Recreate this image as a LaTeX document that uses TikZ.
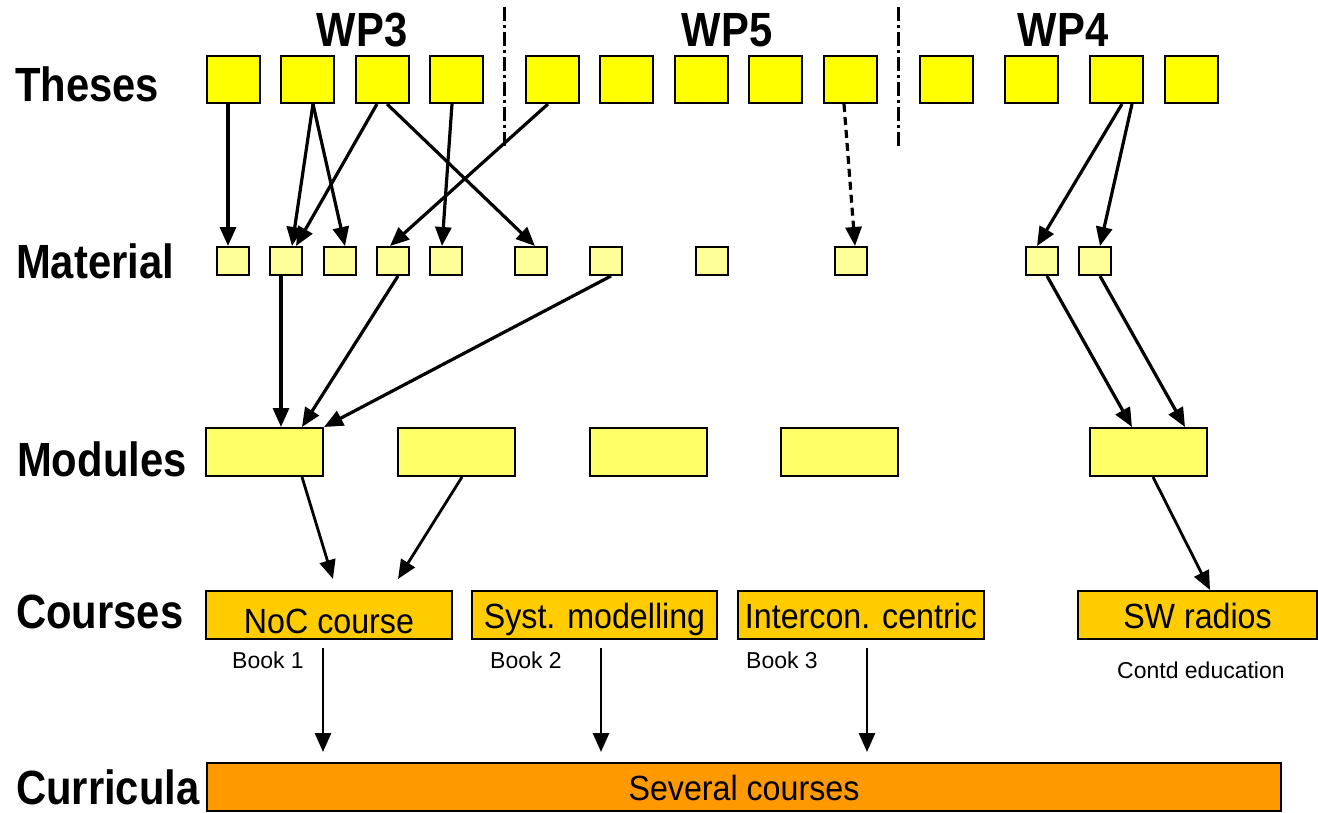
\documentclass[tikz,border=0pt]{standalone}
\usepackage{fontspec}
\setmainfont{Liberation Sans}
\newfontfamily\rowfont[FakeStretch=0.87]{Liberation Sans}
\newfontfamily\boxfont[FakeStretch=0.92]{Liberation Sans}
\usetikzlibrary{arrows.meta}

\definecolor{thesisfill}{HTML}{FFFF00}
\definecolor{matfill}{HTML}{FFFF99}
\definecolor{modfill}{HTML}{FFFF66}
\definecolor{coursefill}{HTML}{FFCC00}
\definecolor{currfill}{HTML}{FF9900}

\tikzset{
    rowlabel/.style={font=\rowfont\bfseries\fontsize{48}{48}\selectfont, anchor=base west, inner sep=0pt},
    wplabel/.style={font=\rowfont\bfseries\fontsize{48}{48}\selectfont, anchor=base, inner sep=0pt},
    note/.style={font=\fontsize{23}{23}\selectfont, anchor=base west, inner sep=0pt},
    thesis/.style={draw, line width=2pt, fill=thesisfill, minimum width=53pt, minimum height=47pt, inner sep=0pt},
    material/.style={draw, line width=2pt, fill=matfill, minimum width=32pt, minimum height=28pt, inner sep=0pt},
    module/.style={draw, line width=2pt, fill=modfill, minimum width=117pt, minimum height=48pt, inner sep=0pt},
    course/.style={draw, line width=2pt, fill=coursefill, minimum height=48pt, inner sep=0pt,
        font=\boxfont\fontsize{35}{35}\selectfont, text height=27pt, text depth=0pt},
    link/.style={line width=3.2pt, -{Triangle[length=19pt,width=16pt]}},
    sep/.style={line width=3pt, dash pattern=on 14pt off 4pt on 3pt off 4pt}
}

\begin{document}
\begin{tikzpicture}[x=1pt, y=-1pt]
    \useasboundingbox (0,0) rectangle (1318,812);
    % row labels
    \node[rowlabel] (theses) at (15,101) {Theses};
    \node[rowlabel] (material) at (16,278) {Material};
    \node[rowlabel] (modules) at (17,476) {Modules};
    \node[rowlabel] (courses) at (16,628) {Courses};
    \node[rowlabel] (curricula) at (16,804) {Curricula};
    % work packages
    \node[wplabel] (wp3) at (362,46) {WP3};
    \node[wplabel] (wp5) at (727,46) {WP5};
    \node[wplabel] (wp4) at (1063,46) {WP4};
    \draw[sep] (504,7) -- (504,146);
    \draw[sep] (898,7) -- (898,146);
    % boxes
    \foreach \x [count=\i] in {233.5,307.5,382,456.5,552,626.5,701.5,775.5,850.5,946.5,1031,1116.5,1191.5}
        \node[thesis] (t\i) at (\x,79.5) {};
    \foreach \x [count=\i] in {233,286,339.5,393,446,530.5,605.5,712,850.5,1042,1095}
        \node[material] (m\i) at (\x,261) {};
    \foreach \x [count=\i] in {264.5,456.5,648.5,839.5,1148.5}
        \node[module] (mod\i) at (\x,452) {};
    \node[course, minimum width=246pt, text height=36pt] (noc) at (329,615) {NoC course};
    \node[course, minimum width=245pt] (syst) at (594.5,615) {Syst. modelling};
    \node[course, minimum width=246pt] (icon) at (861,615) {Intercon. centric};
    \node[course, minimum width=239pt] (swr) at (1197.5,615) {SW radios};
    \node[course, fill=currfill, minimum width=1074pt, text height=26pt] (cur) at (744,787) {Several courses};
    \node[note] (book1) at (232,668) {Book 1};
    \node[note] (book2) at (490,668) {Book 2};
    \node[note] (book3) at (746,668) {Book 3};
    \node[note] (contd) at (1117,678) {Contd education};
    % theses -> material
    \draw[link] ([xshift=-5.5pt]t1.south) -- ([xshift=-5pt]m1.north);
    \draw[link] ([xshift=5.5pt]t2.south) -- ([xshift=6pt]m2.north);
    \draw[link] ([xshift=5.5pt]t2.south) -- ([xshift=5.5pt]m3.north);
    \draw[link] ([xshift=-5pt]t3.south) -- ([xshift=10pt]m2.north);
    \draw[link] ([xshift=5pt]t3.south) -- ([xshift=4.5pt]m6.north);
    \draw[link] ([xshift=-4.5pt]t4.south) -- ([xshift=-4pt]m5.north);
    \draw[link] ([xshift=-4pt]t5.south) -- ([xshift=-3pt]m4.north);
    \draw[link, dash pattern=on 8pt off 5pt] ([xshift=-6.5pt]t9.south) -- ([xshift=4.5pt]m9.north);
    \draw[link] ([xshift=5.5pt]t12.south) -- ([xshift=-5pt]m10.north);
    \draw[link] ([xshift=15.5pt]t12.south) -- ([xshift=5pt]m11.north);
    % material -> modules
    \draw[link] ([xshift=-5pt]m2.south) -- ([xshift=16.5pt]mod1.north);
    \draw[link] ([xshift=5pt]m4.south) -- ([xshift=37.5pt]mod1.north);
    \draw[link] ([xshift=5.5pt]m7.south) -- (mod1.north east);
    \draw[link] ([xshift=5pt]m10.south) -- ([xshift=-16.5pt]mod5.north);
    \draw[link] ([xshift=5pt]m11.south) -- ([xshift=36.5pt]mod5.north);
    % modules -> courses
    \draw[link, line width=2.8pt] ([xshift=37.5pt]mod1.south) -- ([xshift=4pt,yshift=11pt]noc.north);
    \draw[link, line width=2.8pt] ([xshift=5.5pt]mod2.south) -- ([xshift=69pt,yshift=11pt]noc.north);
    \draw[link, line width=2.8pt] ([xshift=4.5pt]mod5.south) -- ([xshift=12.5pt]swr.north);
    % courses -> curricula
    \draw[link, line width=2.8pt] ([xshift=-6pt,yshift=-8pt]noc.south) -- ([xshift=-421pt,yshift=10pt]cur.north);
    \draw[link, line width=2.8pt] ([xshift=6.5pt,yshift=-8pt]syst.south) -- ([xshift=-143pt,yshift=10pt]cur.north);
    \draw[link, line width=2.8pt] ([xshift=6pt,yshift=-8pt]icon.south) -- ([xshift=123pt,yshift=10pt]cur.north);
\end{tikzpicture}
\end{document}
